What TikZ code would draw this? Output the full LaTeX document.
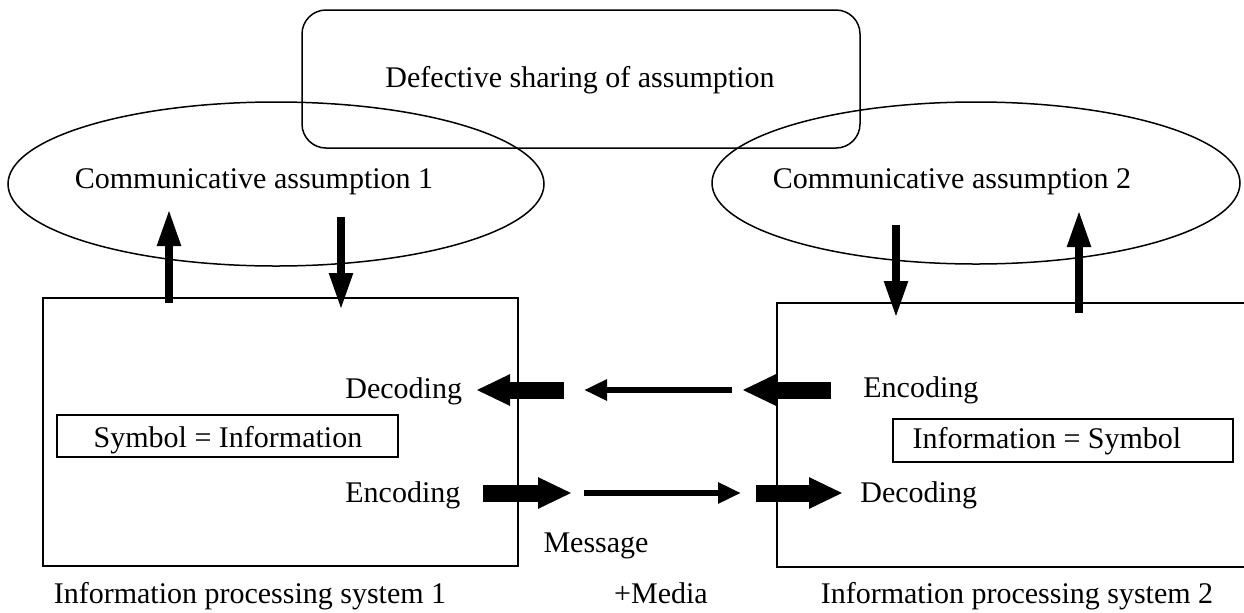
\documentclass[tikz,border=0pt]{standalone}
\usepackage{fontspec}
\setmainfont{Liberation Serif}
\usetikzlibrary{arrows.meta}

\tikzset{
  lbl/.style={inner sep=0pt, anchor=base, font=\fontsize{15}{18}\selectfont},
  frame/.style={draw, line width=0.75pt},
  vthick/.style={line width=4pt, -{Triangle[length=18.5pt,width=11pt]}},
  hthick/.style={line width=8.5pt, -{Triangle[length=17pt,width=14.5pt]}},
  hthin/.style={line width=3pt, -{Triangle[length=11.5pt,width=10pt]}}
}

\begin{document}
\begin{tikzpicture}[x=0.5pt, y=-0.5pt]
\useasboundingbox (0,0) rectangle (1244,612);

% shared-assumption box and the two assumption ellipses
\draw[frame, rounded corners=12pt] (302,10) rectangle (860,148);
\node[lbl] (defect) at (580,87) {Defective sharing of assumption};

\draw[frame] (276,184) ellipse [x radius=268, y radius=82];
\node[lbl] (ca1) at (254,188) {Communicative assumption 1};

\draw[frame] (976,183) ellipse [x radius=264, y radius=81];
\node[lbl] (ca2) at (952,188) {Communicative assumption 2};

% the two information processing systems
\draw[frame] (43,298) rectangle (518,566);
\draw[frame] (1250,303) -- (777,303) -- (777,567) -- (1250,567);

\node[frame, inner sep=0pt, minimum width=170.5pt, minimum height=21pt] (sym1) at (227.5,436) {};
\node[lbl] (sym1t) at (228,447) {Symbol = Information};
\node[frame, inner sep=0pt, minimum width=170pt, minimum height=21.5pt] (sym2) at (1063,440.5) {};
\node[lbl] (sym2t) at (1047,448) {Information = Symbol};

\node[lbl, anchor=base west] (dec1) at (345,398) {Decoding};
\node[lbl, anchor=base west] (enc1) at (345,502) {Encoding};
\node[lbl, anchor=base west] (enc2) at (863,397) {Encoding};
\node[lbl, anchor=base west] (dec2) at (860,502) {Decoding};

\node[lbl] (msg) at (596,552) {Message};
\node[lbl] (media) at (661,603) {+Media};
\node[lbl] (ips1) at (250,603) {Information processing system 1};
\node[lbl] (ips2) at (1017,603) {Information processing system 2};

% arrow end points
\coordinate (v1a) at (169,303);  \coordinate (v1b) at (169,209);
\coordinate (v2a) at (341,217);  \coordinate (v2b) at (341,310);
\coordinate (v3a) at (896,225);  \coordinate (v3b) at (896,318);
\coordinate (v4a) at (1079,313); \coordinate (v4b) at (1079,210);

\coordinate (t1a) at (564,390); \coordinate (t1b) at (476,390);
\coordinate (t2a) at (732,390); \coordinate (t2b) at (584,390);
\coordinate (t3a) at (831,390); \coordinate (t3b) at (742,390);

\coordinate (b1a) at (483,493); \coordinate (b1b) at (572,493);
\coordinate (b2a) at (584,493); \coordinate (b2b) at (741,493);
\coordinate (b3a) at (756,493); \coordinate (b3b) at (843,493);

% links between systems and assumptions
\draw[vthick] (v1a) -- (v1b);
\draw[vthick] (v2a) -- (v2b);
\draw[vthick] (v3a) -- (v3b);
\draw[vthick] (v4a) -- (v4b);

% message flow
\draw[hthick] (t1a) -- (t1b);
\draw[hthin]  (t2a) -- (t2b);
\draw[hthick] (t3a) -- (t3b);
\draw[hthick] (b1a) -- (b1b);
\draw[hthin]  (b2a) -- (b2b);
\draw[hthick] (b3a) -- (b3b);
\end{tikzpicture}
\end{document}
